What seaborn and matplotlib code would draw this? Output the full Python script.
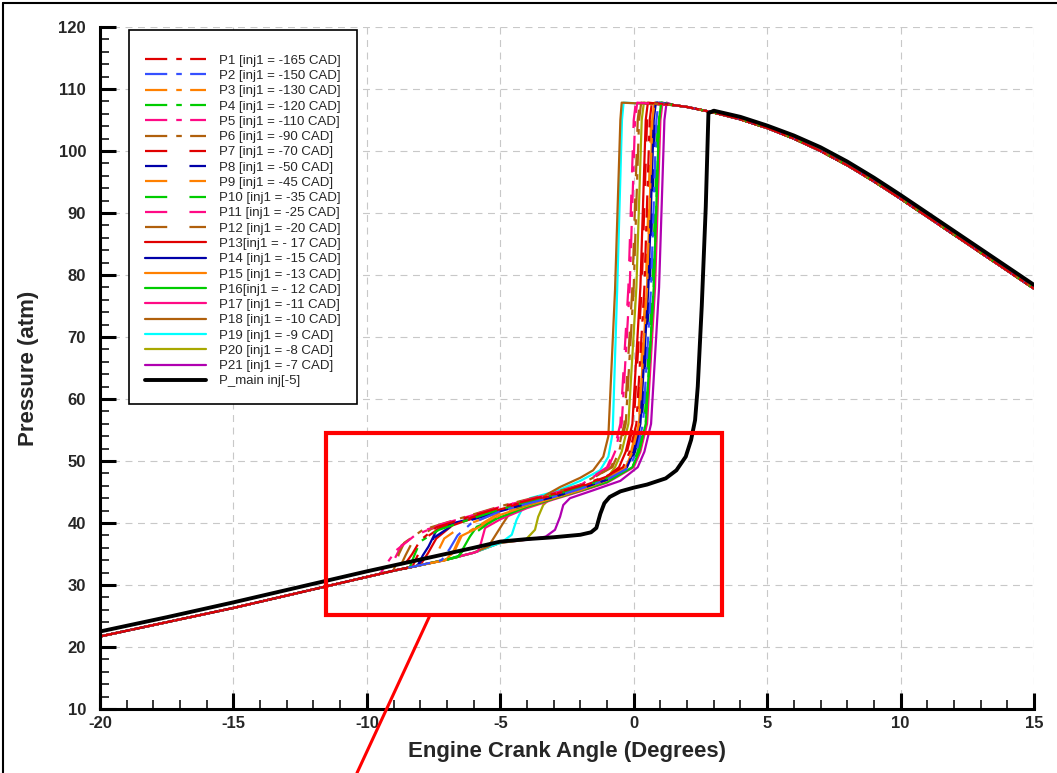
import matplotlib
matplotlib.use("Agg")
import matplotlib.pyplot as plt
from matplotlib.ticker import MultipleLocator
from matplotlib.lines import Line2D
from matplotlib.patches import Rectangle
import seaborn as sns

# ---------------- data ----------------
# shared compression part of the coloured curves (slightly below P_main)
comp_x = [-20, -17.5, -15, -12.5, -10, -9, -8, -7, -6, -5, -4, -3, -2]
comp_p = [21.7, 24.0, 26.3, 28.8, 31.3, 32.3, 33.2, 34.1, 35.2, 36.8, 37.3, 37.7, 38.0]
# shared expansion part of the coloured curves
exp_x = [1.5, 2, 3, 4, 5, 6, 7, 8, 9, 10, 11, 12, 13, 14, 15]
exp_p = [107.4, 107.1, 106.2, 105.1, 103.7, 102.0, 100.0, 97.7, 95.1, 92.3, 89.4, 86.5, 83.6, 80.7, 77.8]

# combustion part of each coloured curve
p1_x = [-8.7, -8.3, -8.0, -7.4, -6, -5, -4, -3, -2, -1, -0.4, -0.15, 0.1, 0.4, 0.6, 0.68]
p1_p = [32.6, 35.0, 37.2, 39.3, 41.2, 42.5, 43.6, 44.7, 46.0, 47.6, 49.0, 51.5, 56.0, 78.0, 105.0, 107.8]
p2_x = [-7.2, -6.9, -6.6, -6.1, -5, -4, -3, -2, -1, -0.15, 0.1, 0.35, 0.65, 0.85, 0.93]
p2_p = [34.0, 35.8, 38.0, 39.9, 41.9, 43.1, 44.2, 45.5, 47.0, 49.0, 51.5, 56.0, 78.0, 105.0, 107.8]
p3_x = [-7.0, -6.7, -6.45, -5.8, -5, -4, -3, -2, -1, -0.3, -0.05, 0.2, 0.5, 0.7, 0.78]
p3_p = [34.1, 35.6, 37.9, 39.6, 41.7, 43.0, 44.1, 45.4, 47.0, 49.0, 51.5, 56.0, 78.0, 105.0, 107.8]
p4_x = [-8.4, -8.2, -8.0, -7.3, -6, -5, -4, -3, -2, -1, -0.05, 0.2, 0.45, 0.75, 0.95, 1.03]
p4_p = [32.8, 35.0, 37.0, 38.9, 40.8, 42.2, 43.4, 44.5, 45.7, 47.2, 49.0, 51.5, 56.0, 78.0, 105.0, 107.8]
p5_x = [-9.5, -9.2, -8.9, -8.2, -7.2, -6, -5, -4, -3, -2, -0.95, -0.7, -0.45, -0.15, 0.05, 0.13]
p5_p = [31.8, 33.8, 35.6, 38.0, 39.8, 41.3, 42.6, 43.7, 44.8, 46.1, 49.0, 51.5, 56.0, 78.0, 105.0, 107.8]
p6_x = [-9.0, -8.8, -8.6, -7.9, -7.0, -6, -5, -4, -3, -2, -0.8, -0.55, -0.3, 0.0, 0.2, 0.28]
p6_p = [32.3, 35.0, 36.8, 38.9, 40.1, 41.4, 42.7, 43.8, 44.9, 46.2, 49.0, 51.5, 56.0, 78.0, 105.0, 107.8]
p7_x = [-8.3, -8.05, -7.8, -7.2, -6, -5, -4, -3, -2, -1, -0.5, -0.25, 0.0, 0.3, 0.5, 0.58]
p7_p = [32.9, 35.2, 37.6, 39.4, 41.0, 42.4, 43.5, 44.6, 45.9, 47.5, 49.0, 51.5, 56.0, 78.0, 105.0, 107.8]
p8_x = [-8.1, -7.8, -7.5, -6.8, -6, -5, -4, -3, -2, -1, -0.2, 0.05, 0.3, 0.6, 0.8, 0.88]
p8_p = [33.1, 34.9, 37.6, 39.6, 40.6, 41.9, 43.1, 44.2, 45.5, 47.0, 49.0, 51.5, 56.0, 78.0, 105.0, 107.8]
p9_x = [-7.6, -7.35, -7.1, -6.5, -5, -4, -3, -2, -1, -0.35, -0.1, 0.15, 0.45, 0.65, 0.73]
p9_p = [33.6, 35.3, 37.5, 39.3, 41.8, 43.0, 44.2, 45.5, 47.1, 49.0, 51.5, 56.0, 78.0, 105.0, 107.8]
p10_x = [-6.6, -6.3, -6.0, -5.5, -4.5, -3.5, -2.5, -1.5, -0.1, 0.15, 0.4, 0.7, 0.9, 0.98]
p10_p = [34.5, 36.0, 38.2, 39.8, 42.3, 43.6, 44.8, 46.2, 49.0, 51.5, 56.0, 78.0, 105.0, 107.8]
p11_x = [-9.2, -8.95, -8.7, -8.0, -7.0, -6, -5, -4, -3, -2, -1.0, -0.75, -0.5, -0.2, 0.0, 0.08]
p11_p = [32.1, 34.3, 36.4, 38.6, 40.0, 41.3, 42.6, 43.7, 44.8, 46.1, 49.0, 51.5, 56.0, 78.0, 105.0, 107.8]
p12_x = [-8.8, -8.55, -8.3, -7.6, -6.8, -6, -5, -4, -3, -2, -0.85, -0.6, -0.35, -0.05, 0.15, 0.23]
p12_p = [32.5, 34.8, 36.9, 39.0, 40.3, 41.2, 42.5, 43.6, 44.7, 46.0, 49.0, 51.5, 56.0, 78.0, 105.0, 107.8]
p13_x = [-8.0, -7.7, -7.4, -6.8, -6, -5, -4, -3, -2, -1, -0.55, -0.3, -0.05, 0.25, 0.45, 0.53]
p13_p = [33.2, 35.2, 37.5, 39.6, 40.8, 42.2, 43.4, 44.5, 45.8, 47.4, 49.0, 51.5, 56.0, 78.0, 105.0, 107.8]
p14_x = [-8.1, -7.9, -7.69, -7.38, -6.76, -5.76, -5, -4, -3, -2, -1, -0.25, 0.0, 0.25, 0.55, 0.75, 0.83]
p14_p = [33.1, 34.8, 36.2, 38.9, 40.0, 41.0, 41.9, 43.1, 44.2, 45.5, 47.0, 49.0, 51.5, 56.0, 78.0, 105.0, 107.8]
p15_x = [-7.05, -6.76, -6.51, -5.76, -5, -4, -3, -2, -1, -0.3, -0.05, 0.2, 0.5, 0.7, 0.78]
p15_p = [34.0, 35.4, 37.8, 39.4, 41.3, 42.8, 44.0, 45.3, 46.9, 49.0, 51.5, 56.0, 78.0, 105.0, 107.8]
p16_x = [-6.55, -6.14, -5.88, -5.2, -4, -3, -2, -1, -0.05, 0.2, 0.45, 0.75, 0.95, 1.03]
p16_p = [34.7, 37.8, 39.4, 40.6, 42.6, 43.9, 45.2, 46.6, 49.0, 51.5, 56.0, 78.0, 105.0, 107.8]
p17_x = [-5.85, -5.76, -5.57, -5.0, -4, -3, -2, -1, 0.0, 0.25, 0.5, 0.8, 1.0, 1.08]
p17_p = [35.4, 36.2, 39.2, 40.6, 42.4, 43.8, 45.1, 46.5, 49.0, 51.5, 56.0, 78.0, 105.0, 107.8]
p18_x = [-5.4, -5.33, -5.14, -4.89, -4.64, -4.0, -3.5, -2.76, -2.0, -1.52, -1.14, -0.95, -0.7, -0.5, -0.45]
p18_p = [36.3, 37.0, 38.3, 40.0, 41.6, 43.1, 44.0, 45.8, 47.3, 48.5, 50.7, 54.0, 77.6, 105.0, 107.8]
p19_x = [-4.95, -4.57, -4.39, -4.14, -3.89, -3.0, -2.64, -2.0, -1.26, -0.95, -0.79, -0.62, -0.44, -0.38]
p19_p = [36.9, 38.1, 40.5, 42.6, 44.0, 45.0, 45.6, 46.8, 48.5, 50.7, 54.5, 77.6, 105.0, 107.8]
p20_x = [-4.05, -3.70, -3.58, -3.39, -3.07, -2.0, -1.0, -0.7, -0.45, -0.2, 0.1, 0.3, 0.38]
p20_p = [37.3, 38.9, 41.0, 42.9, 44.2, 45.6, 47.2, 49.0, 51.5, 56.0, 78.0, 105.0, 107.8]
p21_x = [-3.3, -2.95, -2.76, -2.64, -2.39, -1.5, -0.5, 0.15, 0.4, 0.65, 0.95, 1.15, 1.23]
p21_p = [37.8, 38.9, 41.0, 42.9, 44.0, 45.3, 46.8, 49.0, 51.5, 56.0, 78.0, 105.0, 107.8]

# reference case with main injection only
main_x = [-20, -17.5, -15, -12.5, -10, -8, -6, -5, -4, -3, -2, -1.6, -1.4, -1.25, -1.1,
          -0.9, -0.5, 0, 0.5, 1.2, 1.6, 1.95, 2.15, 2.3, 2.4, 2.55, 2.7, 2.8,
          3, 4, 5, 6, 7, 8, 9, 10, 11, 12, 13, 14, 15]
main_p = [22.5, 24.8, 27.2, 29.7, 32.2, 34.1, 36.0, 37.0, 37.4, 37.7, 38.1, 38.5, 39.2, 41.5, 43.2,
          44.2, 45.1, 45.7, 46.2, 47.2, 48.5, 50.7, 53.4, 56.6, 62.0, 75.0, 91.0, 106.1,
          106.5, 105.5, 104.1, 102.5, 100.6, 98.3, 95.7, 92.9, 90.0, 87.1, 84.2, 81.3, 78.4]

labels = ["P1 [inj1 = -165 CAD]", "P2 [inj1 = -150 CAD]", "P3 [inj1 = -130 CAD]",
          "P4 [inj1 = -120 CAD]", "P5 [inj1 = -110 CAD]", "P6 [inj1 = -90 CAD]",
          "P7 [inj1 = -70 CAD]", "P8 [inj1 = -50 CAD]", "P9 [inj1 = -45 CAD]",
          "P10 [inj1 = -35 CAD]", "P11 [inj1 = -25 CAD]", "P12 [inj1 = -20 CAD]",
          "P13[inj1 = - 17 CAD]", "P14 [inj1 = -15 CAD]", "P15 [inj1 = -13 CAD]",
          "P16[inj1 = - 12 CAD]", "P17 [inj1 = -11 CAD]", "P18 [inj1 = -10 CAD]",
          "P19 [inj1 = -9 CAD]", "P20 [inj1 = -8 CAD]", "P21 [inj1 = -7 CAD]"]
main_label = "P_main inj[-5]"

series_x = [p1_x, p2_x, p3_x, p4_x, p5_x, p6_x, p7_x, p8_x, p9_x, p10_x, p11_x,
            p12_x, p13_x, p14_x, p15_x, p16_x, p17_x, p18_x, p19_x, p20_x, p21_x]
series_p = [p1_p, p2_p, p3_p, p4_p, p5_p, p6_p, p7_p, p8_p, p9_p, p10_p, p11_p,
            p12_p, p13_p, p14_p, p15_p, p16_p, p17_p, p18_p, p19_p, p20_p, p21_p]

# ---------------- styles ----------------
RED, BLUE, DBLUE, ORANGE, GREEN = "#e00000", "#3550ff", "#0000a8", "#ff8000", "#00cc00"
PINK, BROWN, CYAN, OLIVE, PURPLE = "#ff0a85", "#b0600c", "#00ffff", "#a8a800", "#b000b0"
colors = [RED, BLUE, ORANGE, GREEN, PINK, BROWN,
          RED, DBLUE, ORANGE, GREEN, PINK, BROWN,
          RED, DBLUE, ORANGE, GREEN, PINK, BROWN, CYAN, OLIVE, PURPLE]
DASHDOT = (0, (16, 6.5, 4, 6))
LONGDASH = (0, (16, 16))
styles = [DASHDOT] * 6 + [LONGDASH] * 6 + ["-"] * 9

sns.set_theme(style="white")
plt.rcParams["font.family"] = ["Liberation Sans", "DejaVu Sans"]
plt.rcParams["lines.scale_dashes"] = False
plt.rcParams["axes.unicode_minus"] = False

W, H = 1057, 773
fig = plt.figure(figsize=(W / 100, H / 100), dpi=100)
fig.patch.set_facecolor("white")
ax = fig.add_axes([100 / W, 1 - 709 / H, 934 / W, 682 / H])
ax.set_facecolor("white")

# draw the later cases first so the early (dashed) ones sit on top, as in the original
order = list(range(len(labels)))[::-1]
for i in order:
    xs, ps = series_x[i], series_p[i]
    fx = [v for v in comp_x if v < xs[0]] + xs + [v for v in exp_x if v > xs[-1]]
    fp = [p for v, p in zip(comp_x, comp_p) if v < xs[0]] + ps + \
         [p for v, p in zip(exp_x, exp_p) if v > xs[-1]]
    sns.lineplot(x=fx, y=fp, ax=ax, color=colors[i], linestyle=styles[i], linewidth=1.6,
                 sort=False, estimator=None, label=labels[i], legend=False)

sns.lineplot(x=main_x, y=main_p, ax=ax, color="black", linewidth=2.8,
             sort=False, estimator=None, label=main_label, legend=False)

ax.set_xlim(-20, 15)
ax.set_ylim(10, 120)
ax.set_xticks(list(range(-20, 16, 5)))
ax.set_yticks(list(range(10, 121, 10)))
ax.xaxis.set_minor_locator(MultipleLocator(1))
ax.yaxis.set_minor_locator(MultipleLocator(2))
ax.tick_params(which="major", direction="in", length=11.5, width=2.2, color="black",
               labelsize=12, bottom=True, left=True, top=False, right=False)
ax.tick_params(which="minor", direction="in", length=6.5, width=1.1, color="black",
               bottom=True, left=True, top=False, right=False)
ax.tick_params(axis="y", which="major", pad=10)
ax.tick_params(axis="x", which="major", pad=5)
for lab in ax.get_xticklabels() + ax.get_yticklabels():
    lab.set_fontweight("bold")
for s in ["top", "right"]:
    ax.spines[s].set_visible(False)
for s in ["left", "bottom"]:
    ax.spines[s].set_linewidth(2.2)
    ax.spines[s].set_color("black")
ax.grid(True, which="major", color="#c8c8c8", linestyle=(0, (5, 4)), linewidth=0.8)
ax.set_axisbelow(True)

ax.set_xlabel("Engine Crank Angle (Degrees)", fontsize=16, fontweight="bold", labelpad=7)
ax.set_ylabel("Pressure (atm)", fontsize=16, fontweight="bold", labelpad=14)

by_label = {h.get_label(): h for h in ax.get_lines()}
leg_labels = labels + [main_label]
leg_handles = [by_label[l] for l in leg_labels]
leg = ax.legend(leg_handles, leg_labels,
                loc="upper left", bbox_to_anchor=(29 / 934, 1 - 3 / 682),
                borderaxespad=0, fontsize=9.5, handlelength=4.6, handletextpad=0.95,
                labelspacing=0.23, borderpad=1.25, frameon=True, fancybox=False,
                title=" ", title_fontsize=4)
leg.get_frame().set_edgecolor("black")
leg.get_frame().set_linewidth(1.2)
leg.get_frame().set_facecolor("white")
leg.get_frame().set_alpha(1)
leg.set_zorder(10)

# red highlight box and pointer line (annotation)
BOX_X0, BOX_X1, BOX_Y0, BOX_Y1 = -11.53, 3.31, 25.16, 54.44
PTR_X = [-7.63, -10.37]
PTR_Y = [25.16, -0.32]
ax.add_patch(Rectangle((BOX_X0, BOX_Y0), BOX_X1 - BOX_X0, BOX_Y1 - BOX_Y0,
                       fill=False, edgecolor="#ff0000", linewidth=3.0, zorder=8))
ax.add_line(Line2D(PTR_X, PTR_Y, color="#ff0000", linewidth=2.2, clip_on=False, zorder=8))

# outer frame (top and left edges)
fig.add_artist(Line2D([3 / W, 1], [1 - 3 / H, 1 - 3 / H], color="black", linewidth=1.5))
fig.add_artist(Line2D([3 / W, 3 / W], [0, 1 - 3 / H], color="black", linewidth=1.5))

fig.savefig("out.png", dpi=100)
